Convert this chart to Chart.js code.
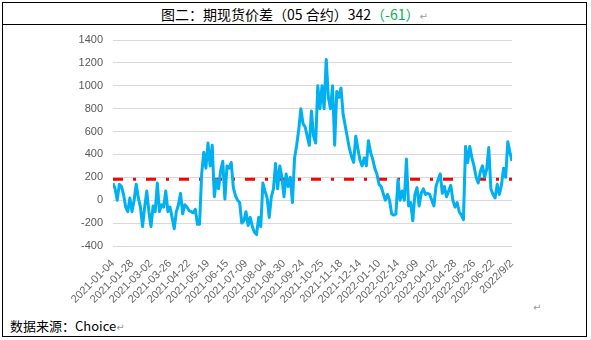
<!DOCTYPE html>
<html>
<head>
<meta charset="utf-8">
<script src="https://cdn.jsdelivr.net/npm/chart.js@4"></script>
<style>
body{margin:0;background:#fff;width:591px;height:340px;position:relative;overflow:hidden}
#caixa{position:absolute;left:2px;top:2px;width:583px;height:333px;border:1px solid #000}
#linhaTitulo{position:absolute;left:2px;top:24px;width:585px;border-top:1px solid #000}
#titulo{position:absolute;left:2px;top:4px;width:585px;text-align:center;font:14px "Noto Sans CJK SC";line-height:20px;color:#000}
#titulo .verde{color:#00b050}
.marca{color:#999;font:10px "DejaVu Sans"}
#fonte{position:absolute;left:10px;top:316px;font:13px "Noto Sans CJK SC";line-height:20px;color:#000}
#marcaGrafico{position:absolute;left:533px;top:302px}
#grafico{position:absolute;left:0;top:0}
</style>
</head>
<body>
<div id="caixa"></div>
<div id="linhaTitulo"></div>
<div id="titulo">图二：期现货价差（05 合约）342<span class="verde">（-61）</span><span class="marca">↵</span></div>
<div id="fonte">数据来源：Choice<span class="marca">↵</span></div>
<div id="marcaGrafico" class="marca">↵</div>
<canvas id="grafico" width="591" height="340"></canvas>
<script>

const tickLabels=["2021-01-04","2021-01-28","2021-03-02","2021-03-26","2021-04-22","2021-05-19","2021-06-15","2021-07-09","2021-08-04","2021-08-30","2021-09-24","2021-10-25","2021-11-18","2021-12-14","2022-01-10","2022-02-14","2022-03-09","2022-04-02","2022-04-28","2022-05-26","2022-06-22","2022/9/2"]

// spread, one value every ~2px of the x axis
const spreadValues=[
150,100,0,140,120,50,-60,-100,20,-100,
0,140,20,-60,-230,-60,80,-100,-230,-50,
-100,150,-100,-40,-60,80,-100,-60,-150,-250,
-100,-40,60,-120,-40,-60,-90,-100,-110,-80,
-210,-210,230,420,280,500,300,480,30,180,
100,260,340,10,300,280,330,110,40,0,
-20,-200,-180,-100,-220,-150,-230,-280,-300,-150,
-230,150,80,20,-150,30,100,320,100,300,
200,30,230,120,200,-20,370,480,620,800,
670,640,560,480,780,560,500,1000,800,1000,
800,1230,900,800,1000,480,950,900,980,750,
650,550,450,380,330,560,450,350,300,370,
300,520,420,360,280,230,140,120,60,0,
50,0,-120,-130,-120,180,0,80,0,360,
-50,-20,-180,50,110,-50,60,100,50,60,
50,0,-50,120,180,230,60,120,30,80,
130,0,-60,-20,-100,-130,-170,470,330,470,
370,300,200,150,250,300,200,270,460,100,
50,20,140,50,130,280,200,510,420,342
]

const meanSpread=183
const tickStep=9

const yMin=-400
const yMax=1400
const yStep=200

Chart.defaults.font.family="Liberation Sans"

new Chart(document.getElementById("grafico"),{

type:"line",

data:{
datasets:[{
data:spreadValues.map((v,i)=>({x:i,y:v})),
borderColor:"#00b0f0",
borderWidth:3,
borderJoinStyle:"round",
pointRadius:0,
tension:0
},{
data:[{x:0,y:meanSpread},{x:spreadValues.length-1,y:meanSpread}],
borderColor:"#ff0000",
borderWidth:3,
borderDash:[10,10,3,10],
pointRadius:0
}]
},

options:{
responsive:false,
animation:false,
layout:{padding:{left:63,top:40,right:79,bottom:24}},
plugins:{legend:{display:false},tooltip:{enabled:false}},
scales:{
x:{
type:"linear",
min:0,
max:spreadValues.length-1,
grid:{display:false},
border:{display:false},
afterFit:s=>{s.height=70},
ticks:{
stepSize:tickStep,
autoSkip:false,
maxRotation:45,
minRotation:45,
color:"#666",
font:{size:11},
padding:3,
callback:v=>tickLabels[v/tickStep]
}
},
y:{
min:yMin,
max:yMax,
grid:{color:"#d9d9d9",drawTicks:false},
border:{display:false},
afterFit:s=>{s.width=50},
ticks:{
stepSize:yStep,
color:"#595959",
font:{size:11},
padding:10,
callback:v=>String(v)
}
}
}
}

})

</script>
</body>
</html>
